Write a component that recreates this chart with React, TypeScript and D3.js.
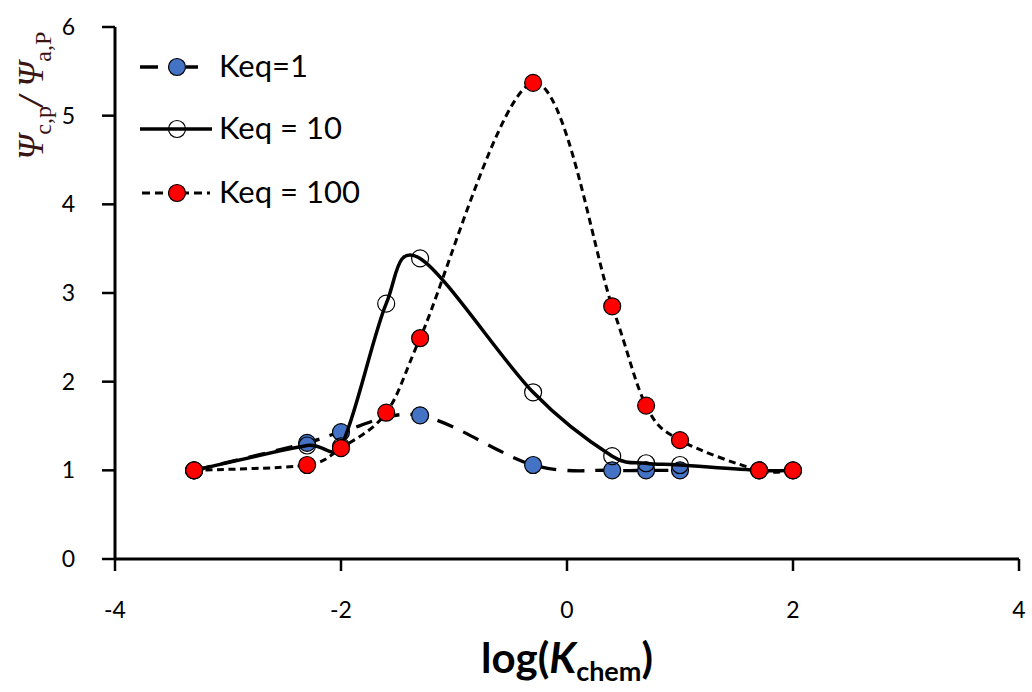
import React from "react";
import * as d3 from "d3";

const W = 1032;
const H = 692;

// data (x = log(Kchem))
const keq1X = [-3.3, -2.3, -2, -1.3, -0.3, 0.4, 0.7, 1.0];
const keq1Y = [1.0, 1.31, 1.43, 1.62, 1.06, 1.0, 1.0, 1.0];

const keq10X = [-3.3, -2.3, -2, -1.6, -1.3, -0.3, 0.4, 0.7, 1.0, 1.7, 2];
const keq10Y = [1.0, 1.28, 1.27, 2.88, 3.39, 1.88, 1.16, 1.08, 1.06, 1.0, 1.0];

const keq100X = [-3.3, -2.3, -2, -1.6, -1.3, -0.3, 0.4, 0.7, 1.0, 1.7, 2];
const keq100Y = [1.0, 1.06, 1.25, 1.65, 2.49, 5.37, 2.85, 1.73, 1.34, 1.0, 1.0];

const xTicks = [-4, -2, 0, 2, 4];
const yTicks = [0, 1, 2, 3, 4, 5, 6];
const legendLabels = ["Keq=1", "Keq = 10", "Keq = 100"];

const FONT = "Lato, 'Open Sans', sans-serif";
const SERIF = "'Liberation Serif', 'DejaVu Serif', serif";

// Excel-like smoothed line: Catmull-Rom tangents, clamped to a fraction of the segment length
function smoothPath(pts: [number, number][], k = 0.5): string {
  const p = d3.path();
  const n = pts.length;
  if (!n) return "";
  const tan = pts.map((_, i) => {
    const a = pts[Math.max(0, i - 1)];
    const b = pts[Math.min(n - 1, i + 1)];
    return [(b[0] - a[0]) / 6, (b[1] - a[1]) / 6];
  });
  const clamp = (t: number[], len: number) => {
    const l = Math.hypot(t[0], t[1]);
    const m = k * len;
    return l > m && l > 0 ? [(t[0] * m) / l, (t[1] * m) / l] : t;
  };
  p.moveTo(pts[0][0], pts[0][1]);
  for (let i = 0; i < n - 1; i++) {
    const a = pts[i];
    const b = pts[i + 1];
    const len = Math.hypot(b[0] - a[0], b[1] - a[1]);
    const t1 = clamp(tan[i], len);
    const t2 = clamp(tan[i + 1], len);
    p.bezierCurveTo(a[0] + t1[0], a[1] + t1[1], b[0] - t2[0], b[1] - t2[1], b[0], b[1]);
  }
  return p.toString();
}

export default function App() {
  const x = d3.scaleLinear().domain([-4, 4]).range([115, 1019]);
  const y = d3.scaleLinear().domain([0, 6]).range([559, 27]);

  const zip = (xs: number[], ys: number[]) => xs.map((v, i) => [v, ys[i]] as [number, number]);
  const px = (pts: [number, number][]) => pts.map((d) => [x(d[0]), y(d[1])] as [number, number]);

  const series = [
    { pts: zip(keq1X, keq1Y), dash: "17,11", legendDash: "18,28", width: 3.3, mfill: "#4472C4" },
    { pts: zip(keq10X, keq10Y), dash: "", legendDash: "", width: 3.5, mfill: "none" },
    { pts: zip(keq100X, keq100Y), dash: "7,4.5", legendDash: "8,5", width: 3, mfill: "#FF0000" },
  ];

  const legendY = [67, 129, 193];
  const legendLine = [
    [140, 198],
    [140, 212],
    [142, 210],
  ];

  return (
    <svg width={W} height={H} style={{ position: "absolute", left: 0, top: 0, background: "#fff" }}>
      {/* axes */}
      <line x1={x(-4)} x2={x(4)} y1={y(0)} y2={y(0)} stroke="#000" strokeWidth={3} />
      <line x1={x(-4)} x2={x(-4)} y1={y(0)} y2={y(6)} stroke="#000" strokeWidth={3} />
      {xTicks.map((t) => (
        <g key={"xt" + t}>
          <line x1={x(t)} x2={x(t)} y1={y(0)} y2={y(0) + 12} stroke="#000" strokeWidth={2.5} />
          <text x={x(t)} y={618} textAnchor="middle" fontFamily={FONT} fontSize={23} fill="#000">
            {t < 0 ? "-" + Math.abs(t) : String(t)}
          </text>
        </g>
      ))}
      {yTicks.map((t) => (
        <g key={"yt" + t}>
          <line x1={x(-4) - 13} x2={x(-4)} y1={y(t)} y2={y(t)} stroke="#000" strokeWidth={2.5} />
          <text x={75} y={y(t) + 8} textAnchor="end" fontFamily={FONT} fontSize={23} fill="#000">
            {String(t)}
          </text>
        </g>
      ))}

      {/* series */}
      {series.map((s, i) => (
        <g key={"s" + i}>
          <path
            d={smoothPath(px(s.pts))}
            fill="none"
            stroke="#000"
            strokeWidth={s.width}
            strokeDasharray={s.dash || undefined}
          />
          {s.pts.map((p, j) => (
            <circle key={j} cx={x(p[0])} cy={y(p[1])} r={8.5} fill={s.mfill} stroke="#000" strokeWidth={1.2} />
          ))}
        </g>
      ))}

      {/* legend */}
      {series.map((s, i) => (
        <g key={"lg" + i}>
          <line
            x1={legendLine[i][0]}
            x2={legendLine[i][1]}
            y1={legendY[i]}
            y2={legendY[i]}
            stroke="#000"
            strokeWidth={s.width}
            strokeDasharray={s.legendDash || undefined}
          />
          <circle cx={177} cy={legendY[i]} r={8.5} fill={s.mfill} stroke="#000" strokeWidth={1.2} />
          <text x={219} y={legendY[i] + 10} fontFamily={FONT} fontSize={31} fill="#000">
            {legendLabels[i]}
          </text>
        </g>
      ))}

      {/* y label */}
      <text transform="translate(43,160) rotate(-90)" fontFamily={SERIF} fontSize={36} fontStyle="italic" fill="#3b1414">
        Ψ
        <tspan fontSize={24} dy={8} fontStyle="normal">c,p</tspan>
        <tspan dy={-8} fontWeight="bold">/ </tspan>
        <tspan>Ψ</tspan>
        <tspan fontSize={24} dy={8} fontStyle="normal">a,P</tspan>
      </text>

      {/* x label */}
      <text x={567} y={673} textAnchor="middle" fontFamily={FONT} fontWeight="bold" fontSize={42} fill="#000">
        log(
        <tspan fontStyle="italic">K</tspan>
        <tspan fontSize={27} dy={8}>chem</tspan>
        <tspan dy={-8}>)</tspan>
      </text>
    </svg>
  );
}
